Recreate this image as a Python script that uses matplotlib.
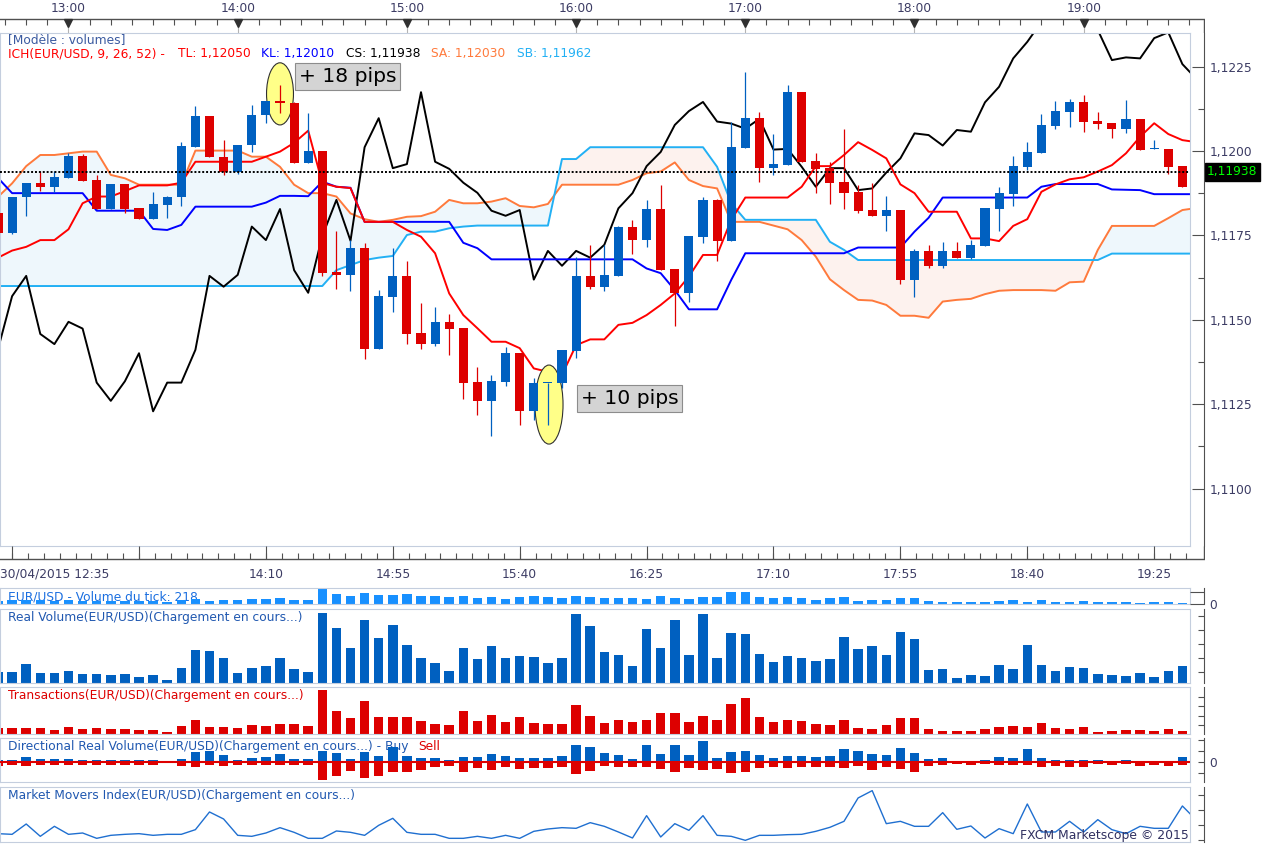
import matplotlib
matplotlib.use("Agg")
import matplotlib.pyplot as plt
import matplotlib.transforms as mtransforms
from matplotlib.patches import Ellipse
from matplotlib.ticker import FuncFormatter
import numpy as np

plt.rcParams['font.family'] = ['DejaVu Sans']

# EUR/USD, 5 minute bars, 30/04/2015, first bar 12:35
opens = [1.11816, 1.11758, 1.11863, 1.11904, 1.11894, 1.11921, 1.11985, 1.11914, 1.11829, 1.11902,
         1.11831, 1.11799, 1.11841, 1.11863, 1.12013, 1.12103, 1.11981, 1.11938, 1.12017, 1.12105,
         1.12147, 1.12143, 1.11965, 1.12001, 1.11642, 1.11632, 1.11713, 1.11413, 1.11568, 1.11630,
         1.11460, 1.11428, 1.11494, 1.11476, 1.11316, 1.11260, 1.11316, 1.11401, 1.11229, 1.11312,
         1.11312, 1.11409, 1.11630, 1.11598, 1.11630, 1.11776, 1.11736, 1.11828, 1.11650, 1.11580,
         1.11746, 1.11855, 1.11734, 1.12010, 1.12097, 1.11949, 1.11959, 1.12174, 1.11970, 1.11950,
         1.11908, 1.11878, 1.11825, 1.11808, 1.11825, 1.11619, 1.11704, 1.11660, 1.11704, 1.11684,
         1.11719, 1.11829, 1.11873, 1.11953, 1.11995, 1.12075, 1.12116, 1.12145, 1.12089, 1.12083,
         1.12066, 1.12095, 1.12006, 1.12006, 1.11955]
highs = [1.11822, 1.11865, 1.11904, 1.11941, 1.11941, 1.11993, 1.11991, 1.11929, 1.11902, 1.11902,
         1.11831, 1.11878, 1.11867, 1.12027, 1.12133, 1.12103, 1.12032, 1.12017, 1.12136, 1.12147,
         1.12195, 1.12145, 1.12113, 1.12001, 1.11763, 1.11736, 1.11728, 1.11588, 1.11713, 1.11674,
         1.11549, 1.11538, 1.11517, 1.11476, 1.11359, 1.11336, 1.11419, 1.11401, 1.11327, 1.11314,
         1.11411, 1.11687, 1.11722, 1.11722, 1.11779, 1.11796, 1.11855, 1.11899, 1.11650, 1.11748,
         1.11865, 1.11858, 1.12087, 1.12233, 1.12114, 1.12050, 1.12195, 1.12174, 1.11993, 1.11967,
         1.12065, 1.11899, 1.11904, 1.11867, 1.11825, 1.11710, 1.11722, 1.11729, 1.11729, 1.11736,
         1.11830, 1.11893, 1.11985, 1.12027, 1.12109, 1.12148, 1.12154, 1.12166, 1.12114, 1.12083,
         1.12151, 1.12095, 1.12032, 1.12006, 1.11955]
lows = [1.11751, 1.11754, 1.11808, 1.11882, 1.11879, 1.11920, 1.11912, 1.11829, 1.11829, 1.11815,
        1.11799, 1.11799, 1.11801, 1.11838, 1.12013, 1.11981, 1.11928, 1.11932, 1.11998, 1.12084,
        1.12113, 1.11965, 1.11965, 1.11630, 1.11592, 1.11584, 1.11383, 1.11413, 1.11522, 1.11428,
        1.11413, 1.11422, 1.11397, 1.11265, 1.11217, 1.11156, 1.11304, 1.11189, 1.11203, 1.11189,
        1.11297, 1.11386, 1.11590, 1.11586, 1.11630, 1.11695, 1.11716, 1.11647, 1.11482, 1.11554,
        1.11728, 1.11675, 1.11734, 1.12010, 1.11909, 1.11929, 1.11959, 1.11968, 1.11875, 1.11843,
        1.11827, 1.11817, 1.11808, 1.11764, 1.11607, 1.11568, 1.11652, 1.11654, 1.11684, 1.11679,
        1.11719, 1.11764, 1.11838, 1.11944, 1.11995, 1.12064, 1.12070, 1.12057, 1.12066, 1.12039,
        1.12054, 1.12004, 1.12006, 1.11932, 1.11894]
closes = [1.11757, 1.11865, 1.11904, 1.11894, 1.11922, 1.11985, 1.11912, 1.11829, 1.11902, 1.11829,
          1.11799, 1.11843, 1.11865, 1.12015, 1.12103, 1.11981, 1.11938, 1.12017, 1.12106, 1.12147,
          1.12141, 1.11965, 1.12001, 1.11639, 1.11632, 1.11713, 1.11413, 1.11570, 1.11630, 1.11458,
          1.11428, 1.11494, 1.11474, 1.11314, 1.11260, 1.11318, 1.11401, 1.11229, 1.11314, 1.11314,
          1.11411, 1.11630, 1.11598, 1.11633, 1.11776, 1.11736, 1.11828, 1.11647, 1.11580, 1.11748,
          1.11855, 1.11734, 1.12011, 1.12097, 1.11949, 1.11961, 1.12174, 1.11968, 1.11947, 1.11906,
          1.11876, 1.11823, 1.11808, 1.11825, 1.11619, 1.11704, 1.11660, 1.11704, 1.11684, 1.11722,
          1.11830, 1.11875, 1.11955, 1.11997, 1.12077, 1.12118, 1.12145, 1.12087, 1.12081, 1.12066,
          1.12095, 1.12004, 1.12006, 1.11953, 1.11894]

# Ichimoku lines (one value more than the candles: the line runs to the right edge)
tenkan = [1.11684, 1.11705, 1.11716, 1.11736, 1.11736, 1.11768, 1.11845, 1.11865, 1.11865, 1.11881,
          1.11898, 1.11898, 1.11898, 1.11906, 1.11968, 1.11968, 1.11968, 1.11968, 1.11968, 1.11983,
          1.11998, 1.12024, 1.12060, 1.11905, 1.11894, 1.11890, 1.11790, 1.11790, 1.11790, 1.11766,
          1.11746, 1.11697, 1.11578, 1.11514, 1.11475, 1.11435, 1.11435, 1.11416, 1.11356, 1.11346,
          1.11337, 1.11425, 1.11442, 1.11442, 1.11485, 1.11491, 1.11514, 1.11544, 1.11578, 1.11628,
          1.11692, 1.11692, 1.11796, 1.11862, 1.11862, 1.11862, 1.11862, 1.11894, 1.11955, 1.11955,
          1.11988, 1.12026, 1.12003, 1.11978, 1.11901, 1.11875, 1.11820, 1.11820, 1.11820, 1.11741,
          1.11741, 1.11733, 1.11778, 1.11798, 1.11879, 1.11901, 1.11916, 1.11922, 1.11939, 1.11958,
          1.11993, 1.12042, 1.12082, 1.12050, 1.12032, 1.12026]
kijun = [1.11920, 1.11875, 1.11875, 1.11875, 1.11875, 1.11875, 1.11875, 1.11823, 1.11823, 1.11823,
         1.11823, 1.11769, 1.11766, 1.11781, 1.11835, 1.11835, 1.11835, 1.11835, 1.11835, 1.11847,
         1.11867, 1.11867, 1.11866, 1.11909, 1.11894, 1.11891, 1.11790, 1.11790, 1.11790, 1.11790,
         1.11790, 1.11790, 1.11790, 1.11728, 1.11712, 1.11679, 1.11679, 1.11679, 1.11679, 1.11679,
         1.11679, 1.11679, 1.11679, 1.11679, 1.11679, 1.11679, 1.11652, 1.11638, 1.11588, 1.11531,
         1.11531, 1.11531, 1.11618, 1.11697, 1.11697, 1.11697, 1.11697, 1.11697, 1.11697, 1.11697,
         1.11697, 1.11714, 1.11714, 1.11714, 1.11714, 1.11761, 1.11802, 1.11862, 1.11862, 1.11862,
         1.11862, 1.11862, 1.11862, 1.11862, 1.11894, 1.11902, 1.11902, 1.11902, 1.11902, 1.11886,
         1.11885, 1.11884, 1.11872, 1.11872, 1.11872, 1.11872]
chikou = [1.11413, 1.11570, 1.11630, 1.11458, 1.11428, 1.11494, 1.11474, 1.11314, 1.11260, 1.11318,
          1.11401, 1.11229, 1.11314, 1.11314, 1.11411, 1.11630, 1.11598, 1.11633, 1.11776, 1.11736,
          1.11828, 1.11647, 1.11580, 1.11748, 1.11855, 1.11734, 1.12011, 1.12097, 1.11949, 1.11961,
          1.12174, 1.11968, 1.11947, 1.11906, 1.11876, 1.11823, 1.11808, 1.11825, 1.11619, 1.11704,
          1.11660, 1.11704, 1.11684, 1.11722, 1.11830, 1.11875, 1.11955, 1.11997, 1.12077, 1.12118,
          1.12145, 1.12087, 1.12081, 1.12066, 1.12095, 1.12004, 1.12006, 1.11953, 1.11894, 1.11949,
          1.11949, 1.11884, 1.11889, 1.11936, 1.11978, 1.12052, 1.12047, 1.12016, 1.12062, 1.12057,
          1.12144, 1.12190, 1.12274, 1.12323, 1.12382, 1.12411, 1.12423, 1.12394, 1.12358, 1.12269,
          1.12277, 1.12274, 1.12334, 1.12351, 1.12257, 1.12213]
senkou_a = [1.11864, 1.11904, 1.11955, 1.11988, 1.11988, 1.11993, 1.11998, 1.11998, 1.11929, 1.11919,
            1.11900, 1.11900, 1.11900, 1.11900, 1.12001, 1.12001, 1.12001, 1.12001, 1.11983, 1.11983,
            1.11953, 1.11900, 1.11875, 1.11875, 1.11865, 1.11815, 1.11798, 1.11790, 1.11796, 1.11805,
            1.11807, 1.11820, 1.11855, 1.11845, 1.11845, 1.11850, 1.11860, 1.11837, 1.11833, 1.11843,
            1.11900, 1.11900, 1.11900, 1.11900, 1.11900, 1.11914, 1.11934, 1.11939, 1.11966, 1.11914,
            1.11896, 1.11889, 1.11790, 1.11790, 1.11790, 1.11779, 1.11768, 1.11736, 1.11687, 1.11620,
            1.11588, 1.11559, 1.11557, 1.11544, 1.11512, 1.11512, 1.11506, 1.11554, 1.11559, 1.11562,
            1.11576, 1.11586, 1.11588, 1.11588, 1.11588, 1.11586, 1.11611, 1.11613, 1.11707, 1.11778,
            1.11778, 1.11778, 1.11778, 1.11801, 1.11825, 1.11831]
senkou_b = [1.11600, 1.11600, 1.11600, 1.11600, 1.11600, 1.11600, 1.11600, 1.11600, 1.11600, 1.11600,
            1.11600, 1.11600, 1.11600, 1.11600, 1.11600, 1.11600, 1.11600, 1.11600, 1.11600, 1.11600,
            1.11600, 1.11600, 1.11600, 1.11600, 1.11647, 1.11662, 1.11677, 1.11684, 1.11689, 1.11751,
            1.11761, 1.11761, 1.11771, 1.11776, 1.11779, 1.11779, 1.11779, 1.11779, 1.11779, 1.11779,
            1.11976, 1.11976, 1.12011, 1.12011, 1.12011, 1.12011, 1.12011, 1.12011, 1.12011, 1.12011,
            1.12011, 1.11953, 1.11845, 1.11796, 1.11796, 1.11796, 1.11796, 1.11796, 1.11796, 1.11731,
            1.11707, 1.11677, 1.11677, 1.11677, 1.11677, 1.11677, 1.11677, 1.11677, 1.11677, 1.11677,
            1.11677, 1.11677, 1.11677, 1.11677, 1.11677, 1.11677, 1.11677, 1.11677, 1.11677, 1.11696,
            1.11696, 1.11696, 1.11696, 1.11696, 1.11696, 1.11696]
last_price = 1.11938

# lower panels (no scale shown in the original, units as read)
tick_volume = [9, 12, 12, 12, 9, 12, 9, 9, 9, 9, 9, 9, 6, 12, 15, 9, 12, 12, 15, 15,
               18, 12, 12, 45, 30, 24, 33, 27, 27, 30, 24, 24, 21, 24, 18, 21, 15, 21, 24, 21,
               18, 24, 21, 18, 18, 18, 15, 24, 18, 15, 21, 21, 36, 36, 21, 18, 21, 18, 12, 18,
               21, 9, 12, 12, 18, 18, 9, 6, 6, 6, 6, 9, 12, 6, 12, 6, 6, 9, 6, 6,
               6, 3, 6, 6, 3]
real_volume = [35, 33, 58, 30, 30, 37, 28, 28, 25, 28, 19, 25, 10, 46, 100, 97, 76, 31, 46, 52,
               76, 43, 33, 211, 166, 106, 190, 136, 175, 115, 76, 61, 37, 106, 73, 112, 76, 82, 79, 61,
               76, 208, 172, 94, 85, 52, 163, 106, 190, 85, 208, 76, 151, 148, 88, 64, 82, 76, 67, 73,
               139, 103, 112, 85, 154, 133, 40, 43, 16, 25, 22, 55, 43, 115, 55, 37, 49, 46, 28, 25,
               22, 31, 19, 37, 52]
transactions = [17, 17, 17, 17, 12, 20, 14, 17, 14, 14, 12, 12, 5, 24, 42, 20, 20, 17, 26, 24,
                29, 29, 24, 132, 69, 47, 99, 51, 51, 51, 38, 30, 26, 69, 38, 57, 35, 51, 33, 30,
                30, 87, 54, 33, 42, 36, 42, 63, 63, 36, 54, 42, 90, 108, 51, 36, 42, 39, 30, 27,
                42, 18, 15, 27, 48, 48, 15, 9, 9, 9, 15, 21, 24, 21, 33, 18, 15, 21, 6, 9,
                12, 12, 9, 15, 9]
buy_volume = [7, 7, 16, 10, 10, 10, 7, 7, 7, 7, 7, 7, 4, 10, 31, 34, 22, 7, 13, 16,
              25, 10, 10, 34, 28, 10, 31, 19, 46, 19, 13, 13, 7, 16, 16, 25, 19, 13, 13, 13,
              19, 52, 46, 28, 22, 10, 52, 25, 52, 22, 64, 13, 31, 34, 22, 13, 19, 19, 16, 19,
              40, 34, 25, 22, 43, 28, 10, 13, 4, 4, 7, 16, 13, 40, 13, 7, 7, 7, 7, 4,
              7, 4, 4, 4, 16]
sell_volume = [10, 8, 11, 8, 8, 8, 8, 8, 8, 8, 8, 8, 3, 11, 14, 8, 11, 8, 8, 8,
               8, 8, 8, 53, 41, 26, 47, 41, 29, 29, 23, 14, 11, 29, 17, 23, 14, 20, 17, 17,
               14, 35, 26, 11, 14, 14, 14, 20, 29, 17, 23, 20, 32, 29, 17, 14, 17, 14, 14, 14,
               17, 11, 23, 14, 20, 29, 11, 8, 5, 8, 5, 8, 8, 8, 14, 11, 14, 14, 5, 8,
               5, 11, 8, 11, 8]
market_movers = [25, 23, 54, 17, 47, 23, 27, 11, 20, 23, 25, 20, 23, 23, 37, 90, 69, 20, 17, 27,
                 43, 29, 11, 11, 33, 29, 20, 50, 71, 29, 23, 23, 11, 11, 17, 11, 20, 11, 32, 39,
                 43, 41, 58, 47, 30, 12, 79, 15, 55, 35, 79, 20, 17, 5, 20, 20, 22, 23, 32, 44,
                 62, 132, 154, 55, 62, 47, 47, 88, 38, 48, 12, 40, 25, 114, 30, 30, 62, 30, 67, 37,
                 25, 47, 41, 41, 108, 65]

top_hours = ['13:00', '14:00', '15:00', '16:00', '17:00', '18:00', '19:00']
top_hour_bars = [5, 17, 29, 41, 53, 65, 77]
bottom_labels = ['14:10', '14:55', '15:40', '16:25', '17:10', '17:55', '18:40', '19:25']
bottom_label_bars = [19, 28, 37, 46, 55, 64, 73, 82]

# ---- layout (pixels of the 1263x844 picture) ----
W, H = 1263, 844
BAR_PX, BAR0_PX = 14.1, -2.0

BORDER = '#c4cede'
AXIS = '#505050'
LABEL = '#3c3c64'
BLUE = '#0060c0'
RED = '#dd0000'
FS = 8.8


def px2bar(x):
    return (x - BAR0_PX) / BAR_PX


fig = plt.figure(figsize=(W / 100, H / 100), dpi=100)
fig.patch.set_facecolor('white')


def add_ax(x0, y0, x1, y1):
    return fig.add_axes([x0 / W, 1 - y1 / H, (x1 - x0) / W, (y1 - y0) / H])


XLIM = (px2bar(0), px2bar(1190))


def panel(y0, y1, ylim):
    a = add_ax(0, y0, 1190, y1)
    for s in a.spines.values():
        s.set_color(BORDER)
    a.set_xticks([])
    a.set_yticks([])
    a.set_xlim(*XLIM)
    a.set_ylim(*ylim)
    r = add_ax(1190, y0, 1204, y1)
    r.set_ylim(*ylim)
    r.set_xticks([])
    r.patch.set_alpha(0)
    for k in ('left', 'top', 'bottom'):
        r.spines[k].set_visible(False)
    r.spines['right'].set_color(AXIS)
    r.yaxis.tick_right()
    r.tick_params(axis='y', which='both', direction='in', colors=AXIS,
                  labelcolor=LABEL, labelsize=FS, pad=4, length=4.5, width=0.8)
    return a, r


def panel_text(a, y0, y1, x_px, y_px, s, color):
    return a.text(x_px / 1190, (y1 - y_px) / (y1 - y0), s, transform=a.transAxes,
                  ha='left', va='center', fontsize=FS, color=color, zorder=1)


idx = np.arange(len(closes))
lidx = np.arange(len(tenkan))

# ---- main price panel ----
ax, axr = panel(32.5, 546, (1.108302, 1.123507))

sa = np.array(senkou_a)
sb = np.array(senkou_b)
ax.fill_between(lidx, sa, sb, where=sa >= sb, interpolate=True, color='#eef7fc', lw=0, zorder=0.5)
ax.fill_between(lidx, sa, sb, where=sa < sb, interpolate=True, color='#fdf2ee', lw=0, zorder=0.5)
ax.plot(lidx, senkou_a, color='#ff7a3c', lw=1.4, zorder=1)
ax.plot(lidx, senkou_b, color='#22b0f4', lw=1.4, zorder=1)
ax.plot(lidx, chikou, color='black', lw=1.4, zorder=1.1)
ax.plot(lidx, kijun, color='#0000ff', lw=1.4, zorder=1.2)
ax.plot(lidx, tenkan, color='#ff0000', lw=1.4, zorder=1.3)

ax.add_patch(Ellipse((px2bar(280), 1.12169), 1.91, 0.00184, fc='#ffff88', ec='#303030', lw=0.8, zorder=2.5))
ax.add_patch(Ellipse((px2bar(549), 1.11249), 1.99, 0.00234, fc='#ffff88', ec='#303030', lw=0.8, zorder=2.5))

o = np.array(opens)
c = np.array(closes)
col = np.where(c >= o, BLUE, RED)
ax.vlines(idx, lows, highs, colors=col, lw=0.9, zorder=3)
ax.bar(idx, np.maximum(np.abs(c - o), 0.00004), bottom=np.minimum(o, c), width=0.64,
       color=col, lw=0, zorder=3.1)

ax.axhline(last_price, color='black', lw=1.4, ls=(0, (1, 1)), zorder=4)

box = dict(boxstyle='square,pad=0.18', fc='#d4d4d4', ec='#8c8c8c', lw=0.8)
ax.text(px2bar(299), 1.12220, '+ 18 pips', fontsize=14.6, ha='left', va='center', bbox=box, zorder=6)
ax.text(px2bar(581), 1.11267, '+ 10 pips', fontsize=14.6, ha='left', va='center', bbox=box, zorder=6)

# price scale
major = np.arange(1.1100, 1.12251, 0.0025)
axr.set_yticks(major)
axr.set_yticks(major[:-1] + 0.00125, minor=True)
axr.tick_params(axis='y', which='major', length=8.5)
axr.tick_params(axis='y', which='minor', length=4.5)
axr.yaxis.set_major_formatter(FuncFormatter(lambda v, p: f'{v:.4f}'.replace('.', ',')))
trans = mtransforms.blended_transform_factory(fig.transFigure, ax.transData)
ax.text(1207 / W, last_price, f'{last_price:.5f}'.replace('.', ','), transform=trans,
        ha='left', va='center', fontsize=FS, color='#00ff00',
        bbox=dict(boxstyle='square,pad=0.2', fc='black', ec='black'), zorder=10)

# legend lines at the top of the price panel
fig.text(8 / W, 1 - 40 / H, '[Modèle : volumes]', fontsize=FS, color='#3a5aa0', va='center')
hy = 1 - 54 / H
fig.text(8 / W, hy, 'ICH(EUR/USD, 9, 26, 52) -', fontsize=FS, color='#ff0000', va='center')
fig.text(178 / W, hy, 'TL: 1,12050', fontsize=FS, color='#ff0000', va='center')
fig.text(261 / W, hy, 'KL: 1,12010', fontsize=FS, color='#0000ff', va='center')
fig.text(346 / W, hy, 'CS: 1,11938', fontsize=FS, color='black', va='center')
fig.text(431 / W, hy, 'SA: 1,12030', fontsize=FS, color='#ff7a3c', va='center')
fig.text(517 / W, hy, 'SB: 1,11962', fontsize=FS, color='#22b0f4', va='center')

# ---- top time ruler ----
axt = add_ax(0, 0, 1205, 32.5)
axt.set_xlim(px2bar(0), px2bar(1205))
axt.set_ylim(32.5, 0)
axt.axis('off')
axt.axhline(19.3, color=AXIS, lw=1)
axt.vlines(np.arange(0.5, px2bar(1205), 1.5), 19.3, 25, color=AXIS, lw=0.8)
axt.vlines(top_hour_bars, 19.3, 32.5, color='#b4b4b4', lw=0.8)
axt.plot(top_hour_bars, [22.5] * len(top_hour_bars), 'v', color='#303030', ms=6)
axt.vlines(px2bar(1204), 19.3, 32.5, color=AXIS, lw=1)
for b, lab in zip(top_hour_bars, top_hours):
    axt.text(b, 8, lab, ha='center', va='center', fontsize=FS, color=LABEL)

# ---- bottom time ruler ----
axb = add_ax(0, 546, 1205, 588)
axb.set_xlim(px2bar(0), px2bar(1205))
axb.set_ylim(42, 0)
axb.axis('off')
axb.axhline(13.3, color=AXIS, lw=1)
axb.vlines(np.arange(1, px2bar(1190), 1.125), 7, 13.3, color=AXIS, lw=0.8)
axb.vlines(np.arange(1, 85, 9), 0, 13.3, color=AXIS, lw=0.8)
axb.vlines(px2bar(1204), 0, 13.3, color=AXIS, lw=1)
axb.text(px2bar(0), 28, '30/04/2015 12:35', ha='left', va='center', fontsize=FS, color=LABEL)
for b, lab in zip(bottom_label_bars, bottom_labels):
    axb.text(b, 28, lab, ha='center', va='center', fontsize=FS, color=LABEL)

# ---- tick volume ----
a1, r1 = panel(588.3, 604, (0, 47))
a1.bar(idx, tick_volume, width=0.68, color='#1890ff', lw=0, zorder=2)
panel_text(a1, 588.3, 604, 8, 596.7, 'EUR/USD - Volume du tick: 218', '#1a6ee0')
r1.set_yticks([0, 37])
r1.set_yticklabels(['0', ''])
r1.tick_params(axis='y', length=10)

# ---- real volume ----
a2, r2 = panel(609.3, 683.3, (0, 222))
a2.bar(idx, real_volume, width=0.68, color=BLUE, lw=0, zorder=2)
panel_text(a2, 609.3, 683.3, 8, 617.5, 'Real Volume(EUR/USD)(Chargement en cours...)', '#2058b0')
r2.set_yticks([33, 75, 117, 159, 201])
r2.set_yticklabels([])

# ---- transactions ----
a3, r3 = panel(687.3, 734, (0, 140))
a3.bar(idx, transactions, width=0.68, color=RED, lw=0, zorder=2)
panel_text(a3, 687.3, 734, 8, 695.5, 'Transactions(EUR/USD)(Chargement en cours...)', RED)
r3.set_yticks([27, 54, 84, 112])
r3.set_yticklabels([])

# ---- directional real volume ----
a4, r4 = panel(738.3, 782.3, (-60, 72))
a4.bar(idx, buy_volume, width=0.68, color=BLUE, lw=0, zorder=2)
a4.bar(idx, -np.array(sell_volume), width=0.68, color=RED, lw=0, zorder=2)
a4.axhline(0, color=RED, lw=1.5, zorder=3)
t4 = panel_text(a4, 738.3, 782.3, 8, 746.5,
                'Directional Real Volume(EUR/USD)(Chargement en cours...) - Buy', '#2058b0')
a4.annotate('Sell', xy=(1, 0.5), xycoords=t4, xytext=(7, 0), textcoords='offset points',
            ha='left', va='center', fontsize=FS, color=RED, zorder=1)
r4.set_yticks([-33, 0, 34, 67])
r4.set_yticklabels(['', '0', '', ''])

# ---- market movers index ----
a5, r5 = panel(787.3, 842, (0, 164))
a5.plot(lidx, market_movers, color='#1f6fd0', lw=1.0, zorder=2)
panel_text(a5, 787.3, 842, 8, 795.5, 'Market Movers Index(EUR/USD)(Chargement en cours...)', '#2058b0')
r5.set_yticks([5, 50, 95, 140])
r5.set_yticklabels([])
fig.text(1189 / W, 1 - 835.5 / H, 'FXCM Marketscope © 2015', ha='right', va='center',
         fontsize=8.9, color='#303060')

fig.savefig('out.png', dpi=100, facecolor='white')
